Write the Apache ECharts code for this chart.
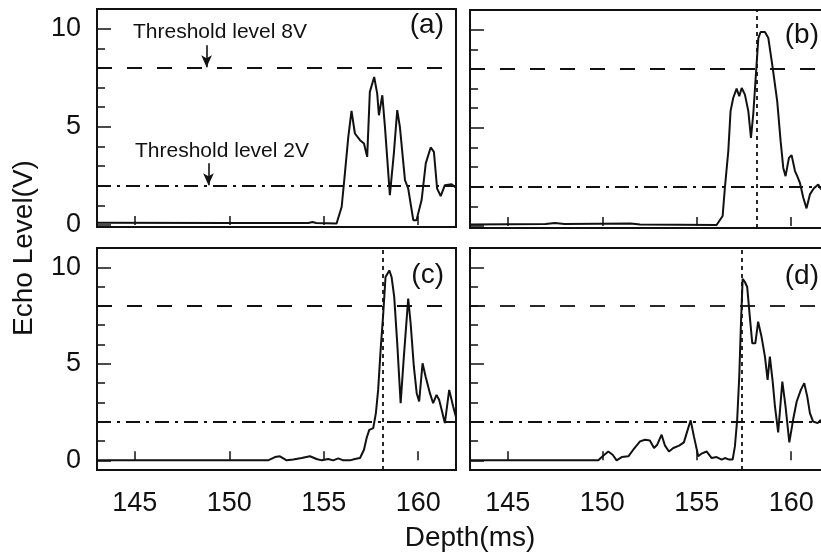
<!DOCTYPE html>
<html>
<head>
<meta charset="utf-8">
<title>Echo level vs depth</title>
<script src="https://cdn.jsdelivr.net/npm/echarts@6/dist/echarts.min.js"></script>
<style>
  html, body { margin: 0; padding: 0; background: #fff; }
  #chart { width: 821px; height: 553px; }
</style>
</head>
<body>
<div id="chart"></div>
<script>
// traces: depth (ms) and echo level (V)
const depthA = [143, 150, 154.2, 154.4, 154.6, 155.68, 155.95, 156.12, 156.3, 156.47, 156.65, 156.92, 157.13, 157.3, 157.44, 157.67, 157.83, 157.92, 158.1, 158.24, 158.5, 158.71, 158.89, 159.03, 159.3, 159.47, 159.74, 159.91, 160.18, 160.4, 160.66, 160.83, 161.0, 161.19, 161.41, 161.77, 162];
const levelA = [0.12, 0.1, 0.1, 0.15, 0.1, 0.08, 0.93, 2.63, 4.49, 5.81, 4.66, 4.32, 4.15, 3.47, 6.78, 7.54, 6.69, 5.59, 6.61, 5.0, 1.52, 3.64, 5.85, 5.0, 2.29, 1.86, 0.25, 0.25, 1.27, 3.14, 3.95, 3.73, 1.86, 1.47, 2.03, 2.08, 1.9];

const depthB = [143, 147, 147.5, 148, 151.5, 152, 156.05, 156.37, 156.49, 156.67, 156.79, 156.93, 157.11, 157.25, 157.38, 157.55, 157.73, 157.87, 157.99, 158.12, 158.26, 158.38, 158.61, 158.79, 159.02, 159.26, 159.44, 159.58, 159.7, 159.88, 160.02, 160.2, 160.32, 160.46, 160.64, 160.81, 160.99, 161.2, 161.43, 161.57, 161.9];
const levelB = [0.08, 0.1, 0.15, 0.1, 0.13, 0.08, 0.05, 0.51, 1.95, 3.81, 5.85, 6.52, 7.0, 6.61, 7.03, 6.69, 5.85, 4.49, 5.68, 7.54, 9.57, 9.88, 9.88, 9.57, 8.05, 6.35, 4.32, 2.96, 2.54, 3.47, 3.61, 2.8, 2.54, 2.2, 1.44, 0.9, 1.61, 1.92, 2.12, 1.88, 2.0];

const depthC = [143, 152.05, 152.15, 152.42, 152.68, 153.04, 153.39, 153.83, 154.27, 154.62, 154.89, 155.24, 155.5, 155.77, 156.03, 156.39, 156.65, 156.92, 157.13, 157.27, 157.41, 157.62, 157.76, 157.88, 158.01, 158.15, 158.27, 158.47, 158.59, 158.73, 158.89, 159.07, 159.24, 159.47, 159.6, 159.77, 159.92, 160.05, 160.23, 160.39, 160.62, 160.79, 160.97, 161.11, 161.24, 161.41, 161.64, 161.85, 161.99];
const levelC = [0, 0, 0.07, 0.17, 0.21, 0, 0.04, 0.12, 0.21, 0.07, 0, 0.07, 0, 0.1, 0, 0, 0.07, 0.12, 0.55, 1.16, 1.58, 1.67, 2.45, 3.65, 5.71, 7.61, 9.5, 9.84, 9.5, 8.47, 6.06, 2.96, 5.37, 8.38, 7.09, 4.85, 3.48, 3.05, 5.03, 4.34, 3.48, 2.96, 3.39, 3.13, 2.62, 1.93, 3.65, 2.79, 2.27];

const depthD = [143, 149.79, 150.05, 150.32, 150.55, 150.76, 151.03, 151.38, 151.64, 152.0, 152.26, 152.52, 152.74, 152.91, 153.14, 153.32, 153.53, 153.76, 154.07, 154.32, 154.52, 154.68, 154.85, 155.08, 155.26, 155.52, 155.79, 156.05, 156.32, 156.49, 156.72, 156.9, 157.02, 157.14, 157.25, 157.34, 157.43, 157.55, 157.67, 157.81, 157.94, 158.1, 158.25, 158.43, 158.61, 158.75, 158.87, 159.02, 159.14, 159.31, 159.53, 159.7, 159.9, 160.1, 160.29, 160.51, 160.69, 160.85, 160.99, 161.16, 161.4, 161.57];
const levelD = [0, 0, 0.24, 0.46, 0.29, 0, 0.17, 0.21, 0.55, 0.98, 1.07, 1.03, 0.64, 0.81, 1.33, 0.76, 0.46, 0.64, 0.76, 0.93, 1.58, 2.07, 1.24, 0.21, 0.35, 0.46, 0.12, 0.17, 0.04, 0.12, 0.04, 0.04, 0.72, 2.1, 4.34, 7.09, 9.41, 9.24, 8.98, 7.43, 6.06, 6.06, 7.18, 6.4, 5.37, 4.17, 5.37, 4.08, 2.79, 1.45, 4.08, 2.79, 0.93, 2.1, 3.05, 3.65, 4.0, 3.3, 2.45, 2.01, 1.93, 2.1];

const xTicks = [145, 150, 155, 160];
const yMajor = [0, 5, 10];
const yMinor = [1, 2, 3, 4, 6, 7, 8, 9];
const thresholdHigh = 8;
const thresholdLow = 2;
// vertical dotted cursor in panels b, c, d
const cursors = [null, 158.15, 158.12, 157.37];
const panelNames = ['(a)', '(b)', '(c)', '(d)'];

const ink = '#111';
const font = 'Liberation Sans, Arial, Helvetica, sans-serif';

// right column runs past the window edge, as in the original figure
const grids = [
  { left: 97, top: 9, width: 359, height: 218 },
  { left: 470, top: 10, width: 359, height: 218 },
  { left: 97, top: 248, width: 359, height: 222 },
  { left: 470, top: 248, width: 359, height: 222 },
];
const yMins = [-0.1, -0.1, -0.5, -0.5];
const traces = [[depthA, levelA], [depthB, levelB], [depthC, levelC], [depthD, levelD]];

const xAxes = grids.map((g, i) => ({
  type: 'value', gridIndex: i, min: 143, max: 162,
  axisLine: { show: false },
  splitLine: { show: false },
  axisTick: { show: true, inside: true, length: 9, customValues: xTicks, lineStyle: { color: ink, width: 1.5 } },
  axisLabel: { show: i >= 2, customValues: xTicks, margin: 20, fontSize: 27, color: ink, fontFamily: font },
}));

const yAxes = [];
grids.forEach((g, i) => {
  // major ticks with labels
  yAxes.push({
    type: 'value', gridIndex: i, position: 'left', min: yMins[i], max: 11,
    axisLine: { show: false },
    splitLine: { show: false },
    axisTick: { show: true, inside: true, length: 14, customValues: yMajor, lineStyle: { color: ink, width: 1.5 } },
    axisLabel: { show: i % 2 === 0, customValues: yMajor, margin: 16, fontSize: 27, color: ink, fontFamily: font },
  });
  // minor ticks
  yAxes.push({
    type: 'value', gridIndex: i, position: 'left', min: yMins[i], max: 11,
    axisLine: { show: false },
    splitLine: { show: false },
    axisTick: { show: true, inside: true, length: 8, customValues: yMinor, lineStyle: { color: ink, width: 1.5 } },
    axisLabel: { show: false },
  });
});

const series = traces.map((t, i) => {
  const lines = [
    { yAxis: thresholdHigh, lineStyle: { type: [15, 15] } },
    { yAxis: thresholdLow, lineStyle: { type: [14, 6, 3, 6] } },
  ];
  if (cursors[i] != null) {
    lines.push({ xAxis: cursors[i], lineStyle: { type: [4, 4] } });
  }
  if (i === 0) {
    // arrows under the threshold labels
    lines.push([
      { coord: [148.8, 9.15], symbol: 'none', lineStyle: { type: 'solid', width: 1.6 } },
      { coord: [148.8, thresholdHigh + 0.03], symbol: 'arrow', symbolSize: [8, 12] },
    ]);
    lines.push([
      { coord: [148.9, 3.15], symbol: 'none', lineStyle: { type: 'solid', width: 1.6 } },
      { coord: [148.9, thresholdLow + 0.03], symbol: 'arrow', symbolSize: [8, 12] },
    ]);
  }
  return {
    type: 'line',
    xAxisIndex: i,
    yAxisIndex: i * 2,
    data: t[0].map((d, k) => [d, t[1][k]]),
    showSymbol: false,
    symbol: 'none',
    lineStyle: { color: ink, width: 2 },
    silent: true,
    markLine: {
      silent: true,
      symbol: 'none',
      label: { show: false },
      lineStyle: { color: ink, width: 1.8 },
      itemStyle: { color: ink },
      data: lines,
    },
  };
});

const labelPos = [[444, 25], [819, 35], [444, 275], [819, 276]];
const graphic = panelNames.map((name, i) => ({
  type: 'text', x: labelPos[i][0], y: labelPos[i][1],
  style: { text: name, font: '28px ' + font, fill: ink, textAlign: 'right', textVerticalAlign: 'middle' },
}));
graphic.push(
  { type: 'text', x: 133, y: 32.5, style: { text: 'Threshold level 8V', font: '21px ' + font, fill: ink, textAlign: 'left', textVerticalAlign: 'middle' } },
  { type: 'text', x: 135, y: 151, style: { text: 'Threshold level 2V', font: '21px ' + font, fill: ink, textAlign: 'left', textVerticalAlign: 'middle' } },
  { type: 'text', x: 470, y: 538, style: { text: 'Depth(ms)', font: '28px ' + font, fill: ink, textAlign: 'center', textVerticalAlign: 'middle' } },
  { type: 'text', x: 24, y: 248, rotation: Math.PI / 2, style: { text: 'Echo Level(V)', font: '28px ' + font, fill: ink, textAlign: 'center', textVerticalAlign: 'middle' } }
);

const chart = echarts.init(document.getElementById('chart'), null, { renderer: 'canvas' });
chart.setOption({
  animation: false,
  backgroundColor: '#fff',
  grid: grids.map(g => Object.assign({
    show: true, borderColor: ink, borderWidth: 2, backgroundColor: 'transparent',
    containLabel: false, outerBoundsMode: 'none',
  }, g)),
  xAxis: xAxes,
  yAxis: yAxes,
  series: series,
  graphic: graphic,
});
</script>
</body>
</html>
